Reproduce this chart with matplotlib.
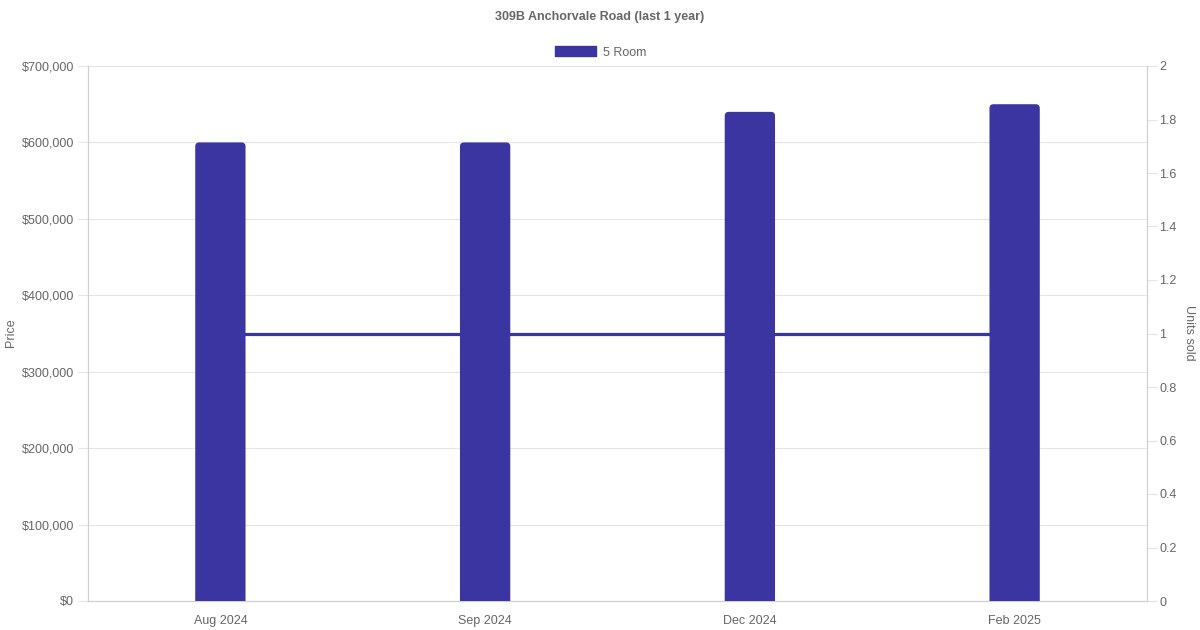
import numpy as np
import matplotlib
matplotlib.use("Agg")
import matplotlib.pyplot as plt
from matplotlib.ticker import FuncFormatter
from matplotlib.patches import FancyBboxPatch, Patch

plt.rcParams['font.family'] = ['Liberation Sans', 'DejaVu Sans']

months = ["Aug 2024", "Sep 2024", "Dec 2024", "Feb 2025"]
prices = [600000, 600000, 640000, 650000]
units = [1, 1, 1, 1]

bar_col = "#3a35a0"
txt_col = "#666666"
grid_col = "#e5e5e5"

fig = plt.figure(figsize=(12, 6.3), dpi=100)
ax = fig.add_axes([88/1200, 1-601/630, (1147-88)/1200, (601-66)/630])
ax2 = ax.twinx()

x = np.arange(len(months))
bw = 0.19
bars = ax.bar(x, prices, width=bw, color=bar_col, zorder=3)
# swap plain rectangles for ones with rounded corners
px_x = 1 / 264.75
px_y = 700000 / 535
for b in bars:
    b.set_visible(False)
    fb = FancyBboxPatch((b.get_x(), -20000), b.get_width(), b.get_height() + 20000,
                        boxstyle="round,pad=0,rounding_size=%f" % (4 * px_x),
                        mutation_aspect=px_y / px_x, facecolor=bar_col,
                        edgecolor="none", zorder=3, clip_on=True)
    ax.add_patch(fb)

ax2.plot(x, units, color=bar_col, lw=2.3, zorder=1)

# bars on top of the line
ax.set_zorder(ax2.get_zorder() + 1)
ax.patch.set_visible(False)

ax.set_xlim(-0.5, len(months) - 0.5)
ax.set_ylim(0, 700000)
ax.set_yticks(np.arange(0, 700001, 100000))
ax.yaxis.set_major_formatter(FuncFormatter(lambda v, p: "${:,.0f}".format(v)))
ax.set_xticks(x)
ax.set_xticklabels(months)
ax2.set_ylim(0, 2)
ax2.set_yticks(np.arange(0, 2.01, 0.2))
ax2.yaxis.set_major_formatter(FuncFormatter(lambda v, p: "{:g}".format(round(v, 1))))

ax.grid(axis="y", color=grid_col, lw=0.8, zorder=0)
ax.set_axisbelow(True)
for a in (ax, ax2):
    for s in a.spines.values():
        s.set_color("#d0d0d0")
        s.set_linewidth(0.8)
    a.spines["top"].set_visible(False)
    a.tick_params(colors=txt_col, labelsize=9, length=7, width=0.8)
    a.tick_params(axis="y", color=grid_col)
ax.tick_params(axis="x", length=0, pad=10)
ax.tick_params(axis="y", pad=3)
ax2.tick_params(axis="y", pad=2)

fig.text(11/1200, 1 - 333/630, "Price", rotation=90, ha="center", va="center",
         color=txt_col, fontsize=9)
fig.text(1189/1200, 1 - 333/630, "Units sold", rotation=270, ha="center", va="center",
         color=txt_col, fontsize=9)

fig.text(0.5, 1 - 17/630, "309B Anchorvale Road (last 1 year)", ha="center", va="center",
         fontsize=9, fontweight="bold", color=txt_col)
ax.legend(handles=[Patch(facecolor=bar_col, edgecolor=bar_col)], labels=["5 Room"],
          loc="upper center", bbox_to_anchor=(0.484, 1 + 25/535), ncol=1, frameon=False,
          fontsize=9, labelcolor=txt_col, handlelength=3.3, handleheight=0.9,
          borderaxespad=0, handletextpad=0.5)

fig.savefig("out.png", dpi=100)
